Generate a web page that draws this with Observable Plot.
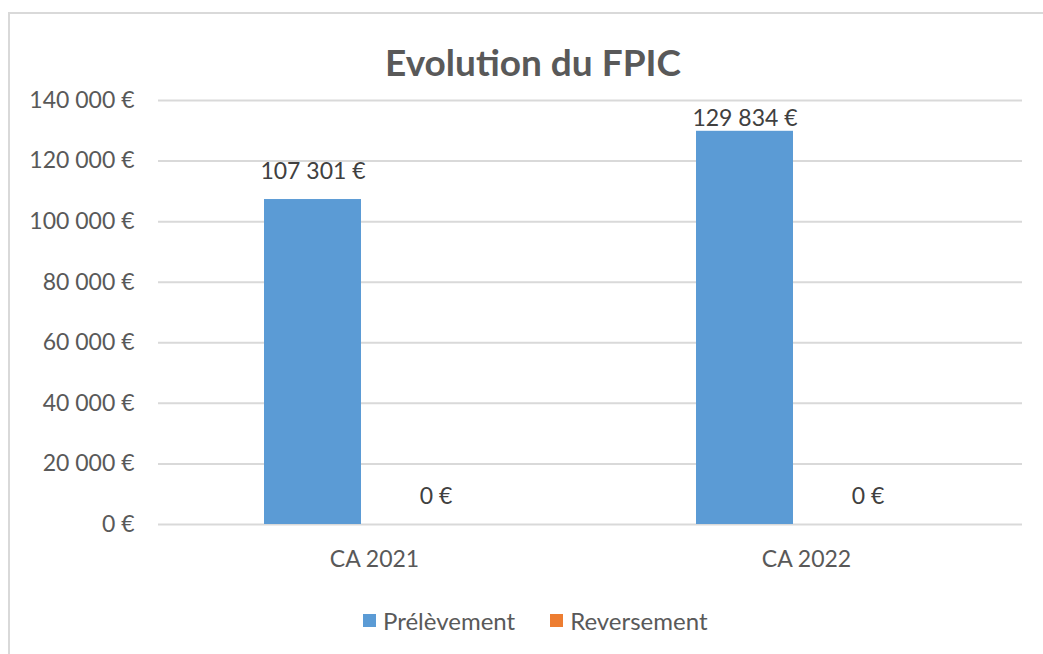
<!DOCTYPE html>
<html>
<head>
<meta charset="utf-8">
<script src="https://cdn.jsdelivr.net/npm/d3@7"></script>
<script src="https://cdn.jsdelivr.net/npm/@observablehq/plot@0.6"></script>
<style>
  html, body { margin: 0; padding: 0; background: #fff; overflow: hidden; width: 1043px; height: 654px; }
  #frame { position: absolute; left: 8px; top: 12px; width: 2000px; height: 2000px; border: 2px solid #d9d9d9; box-sizing: border-box; }
  #chart { position: absolute; left: 0; top: 0; }
  #title { position: absolute; left: 0; width: 1066px; top: 41px; line-height: 42px; text-align: center;
           font-family: Lato, sans-serif; font-weight: bold; font-size: 37px; color: #595959; }
  #legend { position: absolute; left: 363px; top: 606px; height: 28px; display: flex; align-items: center;
            font-family: Lato, sans-serif; font-size: 24px; color: #595959; }
  .item { display: flex; align-items: center; margin-right: 35px; }
  .sw { width: 13px; height: 13px; margin-right: 7px; }
</style>
</head>
<body>
<div id="frame"></div>
<div id="chart"></div>
<div id="title">Evolution du FPIC</div>
<div id="legend"></div>
<script>
const categories = ["CA 2021", "CA 2022"];
const series = ["Prélèvement", "Reversement"];
const prelevement = [107301, 129834];
const reversement = [0, 0];
const colors = ["#5b9bd5", "#ed7d31"];
const yTicks = [0, 20000, 40000, 60000, 80000, 100000, 120000, 140000];

const data = categories.flatMap((c, i) => [
  {cat: c, series: series[0], value: prelevement[i]},
  {cat: c, series: series[1], value: reversement[i]}
]);

const fmt = v => d3.format(",")(v).replace(/,/g, " ") + " €";

const chart = Plot.plot({
  width: 1043,
  height: 654,
  marginTop: 100,
  marginBottom: 130,
  marginLeft: 157,
  marginRight: 21,
  style: {fontFamily: "Lato, sans-serif", fontSize: "23px", color: "#595959", background: "transparent", overflow: "visible"},
  fx: {domain: categories, padding: 0, label: null},
  x: {domain: series, paddingInner: 0.2146, paddingOuter: 0.858, axis: null},
  y: {domain: [0, 140000], label: null},
  color: {domain: series, range: colors},
  marks: [
    Plot.gridY(yTicks, {stroke: "#d9d9d9", strokeOpacity: 1, strokeWidth: 2}),
    Plot.axisY(yTicks, {tickSize: 0, tickPadding: 24, tickFormat: fmt, fill: "#595959", fontSize: 23, label: null}),
    Plot.axisFx({anchor: "bottom", tickSize: 0, tickPadding: 26, fontSize: 23, fill: "#595959", label: null}),
    Plot.barY(data, {fx: "cat", x: "series", y: "value", fill: "series"}),
    Plot.text(data, {fx: "cat", x: "series", y: d => Math.min(d.value, 124800), dy: -28,
                     text: d => fmt(d.value), fill: "#404040", fontSize: 23})
  ]
});
document.getElementById("chart").appendChild(chart);

const legend = document.getElementById("legend");
series.forEach((s, i) => {
  const item = document.createElement("div");
  item.className = "item";
  const sw = document.createElement("div");
  sw.className = "sw";
  sw.style.background = colors[i];
  const lab = document.createElement("span");
  lab.textContent = s;
  item.appendChild(sw);
  item.appendChild(lab);
  legend.appendChild(item);
});
</script>
</body>
</html>
